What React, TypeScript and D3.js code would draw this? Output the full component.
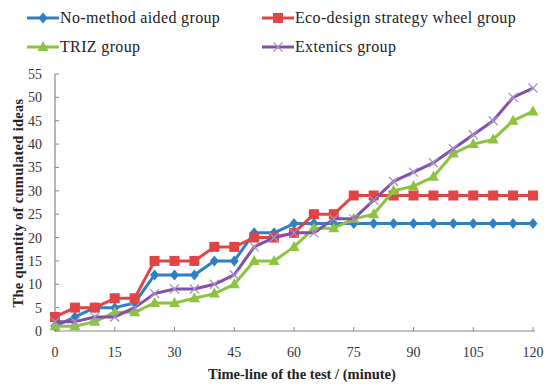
import React from 'react';
import * as d3 from 'd3';

// minutes on the x axis, one reading every 5 minutes
const minutes = [0, 5, 10, 15, 20, 25, 30, 35, 40, 45, 50, 55, 60, 65, 70, 75, 80, 85, 90, 95, 100, 105, 110, 115, 120];

const noMethod = [1, 3, 5, 5, 6, 12, 12, 12, 15, 15, 21, 21, 23, 23, 23, 23, 23, 23, 23, 23, 23, 23, 23, 23, 23];
const ecoDesign = [3, 5, 5, 7, 7, 15, 15, 15, 18, 18, 20, 20, 21, 25, 25, 29, 29, 29, 29, 29, 29, 29, 29, 29, 29];
const triz = [1, 1, 2, 4, 4, 6, 6, 7, 8, 10, 15, 15, 18, 22, 22, 24, 25, 30, 31, 33, 38, 40, 41, 45, 47];
const extenics = [2, 2, 3, 3, 5, 8, 9, 9, 10, 12, 18, 20, 21, 21, 24, 24, 28, 32, 34, 36, 39, 42, 45, 50, 52];

const xTicks = [0, 15, 30, 45, 60, 75, 90, 105, 120];
const yTicks = [0, 5, 10, 15, 20, 25, 30, 35, 40, 45, 50, 55];

const series = [
  { name: 'No-method aided group', values: noMethod, color: '#2e7fc4', marker: 'diamond' },
  { name: 'Eco-design strategy wheel group', values: ecoDesign, color: '#e04444', marker: 'square' },
  { name: 'TRIZ group', values: triz, color: '#8cc43f', marker: 'triangle' },
  { name: 'Extenics group', values: extenics, color: '#8250a6', marker: 'cross' },
];

const font = '"Liberation Serif", "DejaVu Serif", serif';

function Marker({ type, x, y, color }: { type: string; x: number; y: number; color: string }) {
  if (type === 'diamond') {
    return <path d={`M${x},${y - 5.5}L${x + 4.5},${y}L${x},${y + 5.5}L${x - 4.5},${y}Z`} fill={color} />;
  }
  if (type === 'square') {
    return <rect x={x - 5} y={y - 5} width={10} height={10} fill={color} />;
  }
  if (type === 'triangle') {
    return <path d={`M${x},${y - 6}L${x + 5.5},${y + 4}L${x - 5.5},${y + 4}Z`} fill={color} />;
  }
  return (
    <path
      d={`M${x - 4.5},${y - 4.5}L${x + 4.5},${y + 4.5}M${x + 4.5},${y - 4.5}L${x - 4.5},${y + 4.5}`}
      stroke="#a593c8"
      strokeWidth={1.3}
    />
  );
}

export default function App() {
  const width = 550;
  const height = 388;

  const x = d3.scaleLinear().domain([0, 120]).range([55, 533]);
  const y = d3.scaleLinear().domain([0, 55]).range([331, 74]);

  const line = d3
    .line<number>()
    .x((d, i) => x(minutes[i]))
    .y((d) => y(d));

  const legendPos = [
    { lx: 27, ly: 18 },
    { lx: 262, ly: 18 },
    { lx: 27, ly: 47 },
    { lx: 262, ly: 47 },
  ];

  return (
    <svg width={width} height={height} style={{ position: 'absolute', left: 0, top: 0, background: '#fff' }}>
      {/* legend */}
      {series.map((s, i) => {
        const p = legendPos[i];
        return (
          <g key={s.name}>
            <line x1={p.lx} x2={p.lx + 32} y1={p.ly} y2={p.ly} stroke={s.color} strokeWidth={3} />
            <Marker type={s.marker} x={p.lx + 16} y={p.ly} color={s.color} />
            <text x={p.lx + 33} y={p.ly + 5} fontFamily={font} fontSize={16} letterSpacing={0.35} fill="#222">
              {s.name}
            </text>
          </g>
        );
      })}

      {/* axes */}
      <line x1={x(0)} x2={x(0)} y1={y(0)} y2={y(55)} stroke="#888" strokeWidth={1.2} />
      <line x1={x(0)} x2={x(120) + 2} y1={y(0)} y2={y(0)} stroke="#888" strokeWidth={1.2} />
      {yTicks.map((t) => (
        <g key={'y' + t}>
          <line x1={x(0)} x2={x(0) + 4} y1={y(t)} y2={y(t)} stroke="#888" />
          <text x={42} y={y(t) + 5} textAnchor="end" fontFamily={font} fontSize={14} fill="#333">
            {t}
          </text>
        </g>
      ))}
      {xTicks.map((t) => (
        <g key={'x' + t}>
          <line x1={x(t)} x2={x(t)} y1={y(0)} y2={y(0) - 4} stroke="#888" />
          <text x={x(t)} y={357} textAnchor="middle" fontFamily={font} fontSize={14} fill="#333">
            {t}
          </text>
        </g>
      ))}

      {/* series */}
      {series.map((s) => (
        <g key={s.name + 'line'}>
          <path d={line(s.values) || ''} fill="none" stroke={s.color} strokeWidth={3} strokeLinejoin="round" />
          {s.values.map((v, i) => (
            <Marker key={i} type={s.marker} x={x(minutes[i])} y={y(v)} color={s.color} />
          ))}
        </g>
      ))}

      {/* axis titles */}
      <text x={302} y={379} textAnchor="middle" fontFamily={font} fontSize={14.5} fontWeight="bold" fill="#222">
        Time-line of the test / (minute)
      </text>
      <text
        transform="translate(23,203) rotate(-90)"
        textAnchor="middle"
        fontFamily={font}
        fontSize={14.5}
        fontWeight="bold"
        letterSpacing={0.3}
        fill="#222"
      >
        The quantity of cumulated ideas
      </text>
    </svg>
  );
}
